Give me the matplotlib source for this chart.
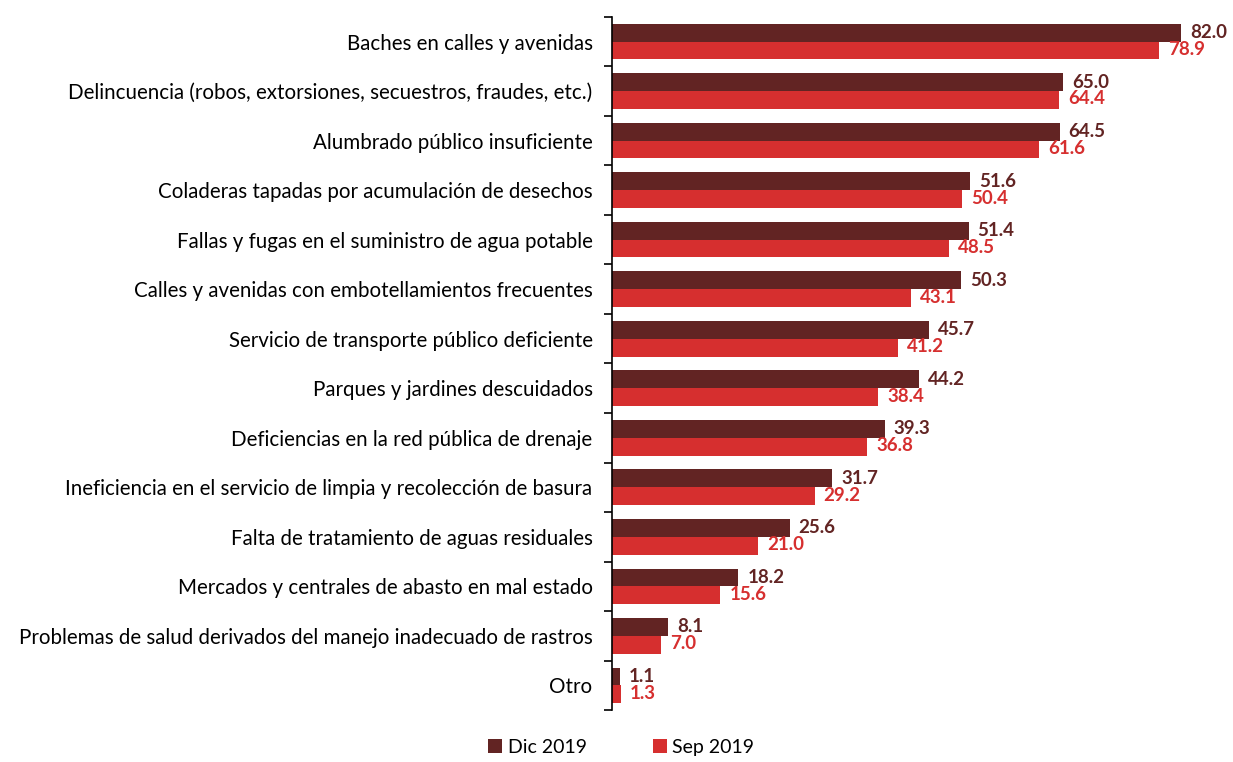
import matplotlib.pyplot as plt
import numpy as np

plt.rcParams['font.family'] = ['Lato', 'DejaVu Sans']

categories = [
    "Baches en calles y avenidas",
    "Delincuencia (robos, extorsiones, secuestros, fraudes, etc.)",
    "Alumbrado público insuficiente",
    "Coladeras tapadas por acumulación de desechos",
    "Fallas y fugas en el suministro de agua potable",
    "Calles y avenidas con embotellamientos frecuentes",
    "Servicio de transporte público deficiente",
    "Parques y jardines descuidados",
    "Deficiencias en la red pública de drenaje",
    "Ineficiencia en el servicio de limpia y recolección de basura",
    "Falta de tratamiento de aguas residuales",
    "Mercados y centrales de abasto en mal estado",
    "Problemas de salud derivados del manejo inadecuado de rastros",
    "Otro",
]
dic_2019 = [82.0, 65.0, 64.5, 51.6, 51.4, 50.3, 45.7, 44.2, 39.3, 31.7, 25.6, 18.2, 8.1, 1.1]
sep_2019 = [78.9, 64.4, 61.6, 50.4, 48.5, 43.1, 41.2, 38.4, 36.8, 29.2, 21.0, 15.6, 7.0, 1.3]

dark = "#622423"
red = "#d62f2f"

fig = plt.figure(figsize=(12.33, 7.62), dpi=100)
ax = fig.add_axes([0.4964, 0.068, 0.494, 0.91])

y = np.arange(len(categories))
h = 0.36
ax.barh(y - h / 2, dic_2019, height=h, color=dark, label="Dic 2019")
ax.barh(y + h / 2, sep_2019, height=h, color=red, label="Sep 2019")

for yi, v in zip(y, dic_2019):
    ax.text(v + 1.3, yi - h / 2, f"{v:.1f}", va="center", ha="left",
            fontsize=13.5, fontweight="bold", color=dark)
for yi, v in zip(y, sep_2019):
    ax.text(v + 1.3, yi + h / 2 - 0.02, f"{v:.1f}", va="center", ha="left",
            fontsize=13.5, fontweight="bold", color=red)

ax.set_xlim(0, 87.8)
ax.set_ylim(len(categories) - 0.5, -0.5)
ax.set_yticks(y)
ax.set_yticklabels(categories, fontsize=14.8)
ax.tick_params(axis="y", which="major", length=0, pad=14)
ax.set_yticks(np.arange(-0.5, len(categories)), minor=True)
ax.tick_params(axis="y", which="minor", length=6, width=1.2)
ax.set_xticks([])
for s in ["top", "right", "bottom"]:
    ax.spines[s].set_visible(False)
ax.spines["left"].set_linewidth(1.2)

fig.legend(loc="lower center", bbox_to_anchor=(0.504, -0.015), ncol=2, frameon=False,
           fontsize=14, handlelength=0.7, handleheight=0.7, handletextpad=0.3,
           columnspacing=3.4)

fig.savefig("out.png", dpi=100)
